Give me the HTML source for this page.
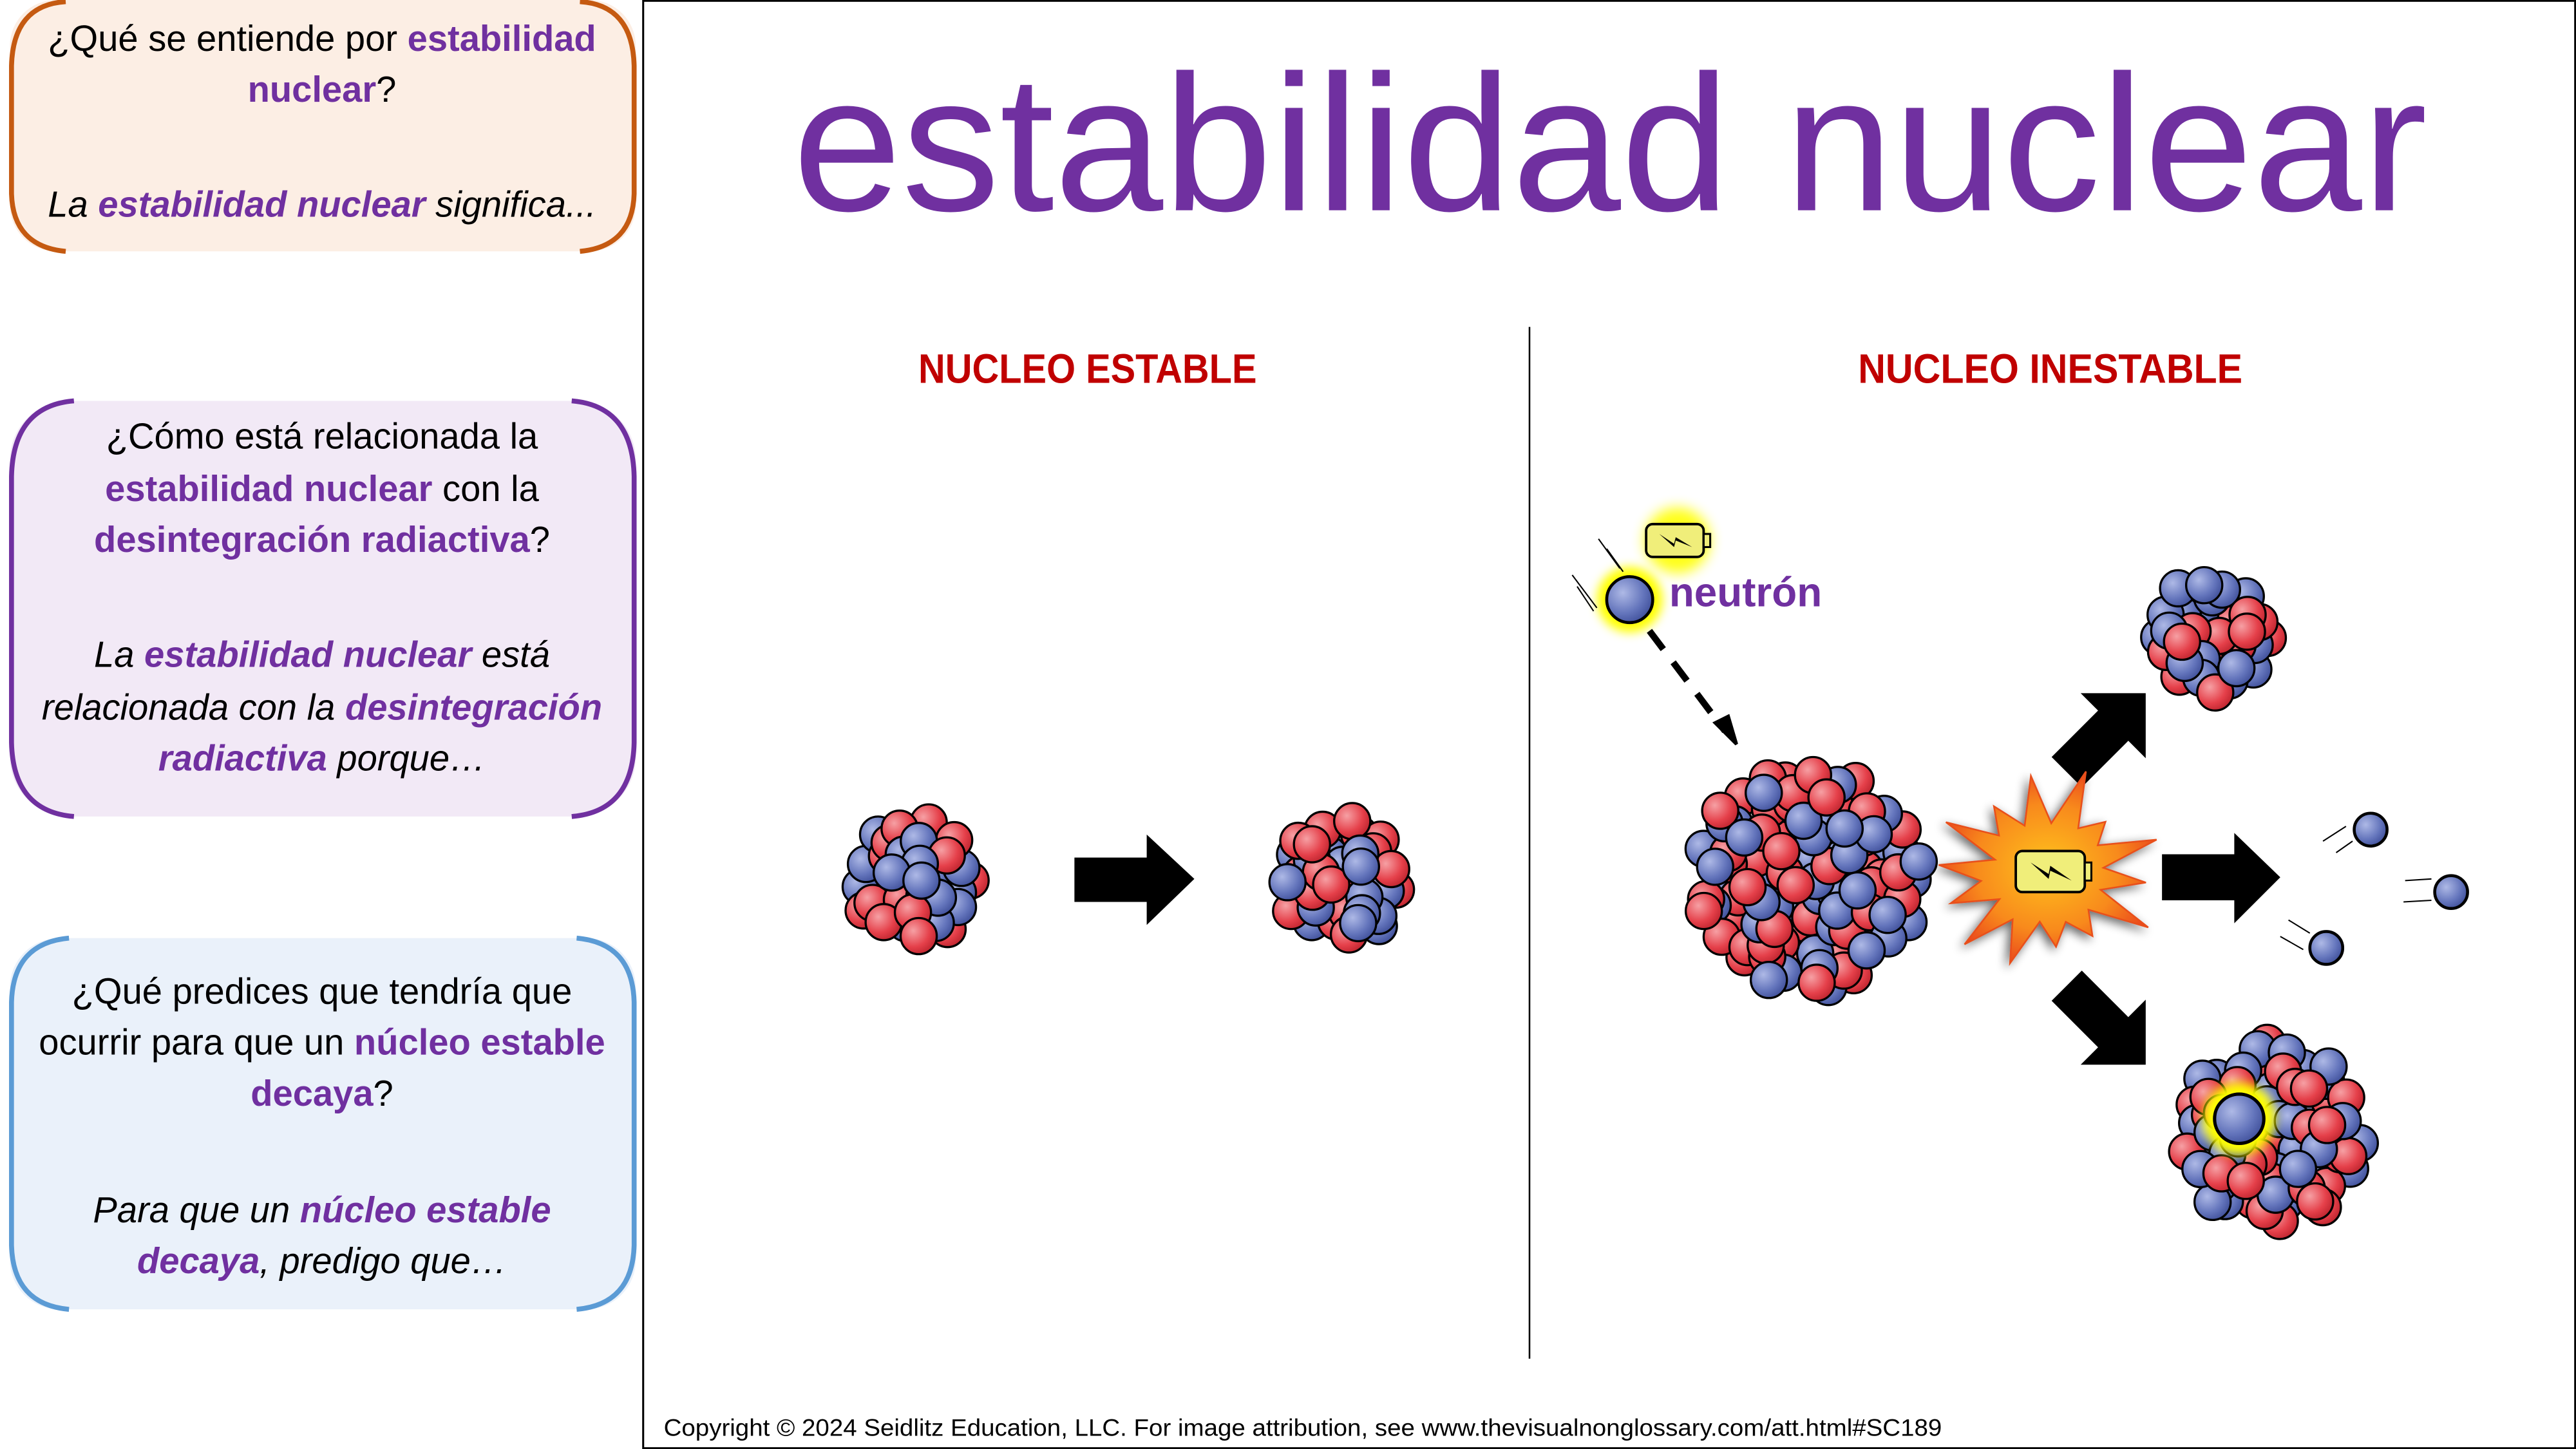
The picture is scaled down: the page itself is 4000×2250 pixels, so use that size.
<!DOCTYPE html>
<html><head><meta charset="utf-8"><style>
html,body{margin:0;padding:0;background:#fff;}
svg{display:block;}
text{font-family:"Liberation Sans","DejaVu Sans",sans-serif;}
.p{fill:#7030A0;font-weight:bold;}
</style></head><body>
<svg id="s" width="4000" height="2250" viewBox="0 0 1568 882" xmlns="http://www.w3.org/2000/svg">
<defs>
<radialGradient id="gb" cx="0.35" cy="0.35" r="0.75"><stop offset="0" stop-color="#AEB9E6"/><stop offset="0.6" stop-color="#6475BC"/><stop offset="1" stop-color="#3A4A95"/></radialGradient>
<radialGradient id="gr" cx="0.35" cy="0.35" r="0.75"><stop offset="0" stop-color="#F6A0A4"/><stop offset="0.6" stop-color="#E5404A"/><stop offset="1" stop-color="#B8202A"/></radialGradient>
<radialGradient id="ge" cx="0.5" cy="0.5" r="0.55"><stop offset="0" stop-color="#FFC21A"/><stop offset="0.6" stop-color="#F88A1A"/><stop offset="1" stop-color="#E8401A"/></radialGradient>
<filter id="bl" x="-1" y="-1" width="3" height="3"><feGaussianBlur stdDeviation="4"/></filter>
<filter id="bl2" x="-1" y="-1" width="3" height="3"><feGaussianBlur stdDeviation="3"/></filter>
<filter id="sh" x="-0.5" y="-0.5" width="2" height="2"><feGaussianBlur in="SourceAlpha" stdDeviation="3"/><feOffset dx="-2" dy="2"/><feComponentTransfer><feFuncA type="linear" slope="0.6"/></feComponentTransfer><feMerge><feMergeNode/><feMergeNode in="SourceGraphic"/></feMerge></filter>
</defs>

<rect x="6" y="0" width="381" height="153" rx="28" fill="#FCEEE4"/>
<path d="M40 1 Q8 3 7 40 V118 Q8 150 40 153" fill="none" stroke="#C55A11" stroke-width="3"/>
<path d="M353 1 Q385 3 386 40 V118 Q385 150 353 153" fill="none" stroke="#C55A11" stroke-width="3"/>
<text x="196" y="31" font-size="22" text-anchor="middle">¿Qué se entiende por <tspan class="p">estabilidad</tspan></text>
<text x="196" y="62" font-size="22" text-anchor="middle"><tspan class="p">nuclear</tspan>?</text>
<text x="196" y="132" font-size="22" text-anchor="middle" font-style="italic">La <tspan class="p">estabilidad nuclear</tspan> significa...</text>

<rect x="6" y="244" width="381" height="253" rx="36" fill="#F2E9F6"/>
<path d="M45 244 Q8 247 7 290 V452 Q8 494 45 497" fill="none" stroke="#7030A0" stroke-width="3"/>
<path d="M348 244 Q385 247 386 290 V452 Q385 494 348 497" fill="none" stroke="#7030A0" stroke-width="3"/>
<text x="196" y="273" font-size="22" text-anchor="middle">¿Cómo está relacionada la</text>
<text x="196" y="305" font-size="22" text-anchor="middle"><tspan class="p">estabilidad nuclear</tspan> con la</text>
<text x="196" y="336" font-size="22" text-anchor="middle"><tspan class="p">desintegración radiactiva</tspan>?</text>
<text x="196" y="406" font-size="22" text-anchor="middle" font-style="italic">La <tspan class="p">estabilidad nuclear</tspan> está</text>
<text x="196" y="438" font-size="22" text-anchor="middle" font-style="italic">relacionada con la <tspan class="p">desintegración</tspan></text>
<text x="196" y="469" font-size="22" text-anchor="middle" font-style="italic"><tspan class="p">radiactiva</tspan> porque…</text>

<rect x="6" y="571" width="381" height="226" rx="30" fill="#EAF1FA"/>
<path d="M42 571 Q8 574 7 610 V758 Q8 794 42 797" fill="none" stroke="#5B9BD5" stroke-width="3"/>
<path d="M351 571 Q385 574 386 610 V758 Q385 794 351 797" fill="none" stroke="#5B9BD5" stroke-width="3"/>
<text x="196" y="611" font-size="22" text-anchor="middle">¿Qué predices que tendría que</text>
<text x="196" y="642" font-size="22" text-anchor="middle">ocurrir para que un <tspan class="p">núcleo estable</tspan></text>
<text x="196" y="673" font-size="22" text-anchor="middle"><tspan class="p">decaya</tspan>?</text>
<text x="196" y="744" font-size="22" text-anchor="middle" font-style="italic">Para que un <tspan class="p">núcleo estable</tspan></text>
<text x="196" y="775" font-size="22" text-anchor="middle" font-style="italic"><tspan class="p">decaya</tspan>, predigo que…</text>

<rect x="391.5" y="0.5" width="1176" height="881" fill="none" stroke="#000" stroke-width="1.2"/>
<line x1="931" y1="199" x2="931" y2="827" stroke="#000" stroke-width="1"/>

<text x="980" y="128" font-size="118" fill="#7030A0" text-anchor="middle" textLength="995" lengthAdjust="spacingAndGlyphs">estabilidad nuclear</text>
<text x="662" y="233" font-size="25" font-weight="bold" fill="#C00000" text-anchor="middle" textLength="206" lengthAdjust="spacingAndGlyphs">NUCLEO ESTABLE</text>
<text x="1248" y="233" font-size="25" font-weight="bold" fill="#C00000" text-anchor="middle" textLength="234" lengthAdjust="spacingAndGlyphs">NUCLEO INESTABLE</text>

<text x="404" y="874" font-size="14.5" textLength="778" lengthAdjust="spacingAndGlyphs">Copyright © 2024 Seidlitz Education, LLC.  For image attribution, see www.thevisualnonglossary.com/att.html#SC189</text>

<g fill="#000">
<polygon points="654,522 698,522 698,508 727,535 698,563 698,549 654,549"/>
<polygon points="1316,520 1360,520 1360,507 1388,534 1360,562 1360,548 1316,548"/>
<polygon transform="translate(1258,470) rotate(-45)" points="0,-13 40,-13 40,-28 68,0 40,28 40,13 0,13"/>
<polygon transform="translate(1258,600) rotate(45)" points="0,-13 40,-13 40,-28 68,0 40,28 40,13 0,13"/>
</g>

<g id="nuc"></g>

<polygon id="boom" fill="url(#ge)" stroke="#E8501A" stroke-width="1" filter="url(#sh)"/>
<g transform="translate(1227,518)">
<rect x="0" y="0" width="42" height="25" rx="4" fill="#F0EE7A" stroke="#000" stroke-width="1.5"/>
<rect x="42" y="7" width="4" height="11" fill="#F0EE7A" stroke="#000" stroke-width="1.2"/>
<polygon points="9,7 20,14 21,9 34,18 21,12 20,17" fill="#000"/>
</g>
<circle cx="1021" cy="329" r="20" fill="#FFFF00" filter="url(#bl)" opacity="0.9"/>
<g transform="translate(1002,319)">
<rect x="0" y="0" width="35" height="20" rx="4" fill="#F0EE7A" stroke="#000" stroke-width="1.5"/>
<rect x="35" y="6" width="4" height="8" fill="#F0EE7A" stroke="#000" stroke-width="1.2"/>
<polygon points="8,6 17,12 18,8 28,14 18,10 17,14" fill="#000"/>
</g>
<circle cx="992" cy="365" r="20" fill="#FFFF00" filter="url(#bl2)"/>
<circle cx="992" cy="365" r="14" fill="url(#gb)" stroke="#000" stroke-width="1.8"/>
<g stroke="#000" stroke-width="0.8">
<line x1="973" y1="328" x2="986" y2="346"/><line x1="978" y1="334" x2="988" y2="348"/>
<line x1="957" y1="350" x2="972" y2="370"/><line x1="960" y1="357" x2="970" y2="372"/>
</g>
<text x="1016" y="369" font-size="25" font-weight="bold" fill="#7030A0">neutrón</text>
<line x1="1004" y1="384" x2="1050" y2="445" stroke="#000" stroke-width="4" stroke-dasharray="14,10"/>
<polygon points="1044,440 1057,453 1052,436" fill="#000" stroke="#000" stroke-width="2"/>

<g stroke="#000" stroke-width="0.8">
<line x1="1414" y1="512" x2="1428" y2="503"/><line x1="1422" y1="519" x2="1432" y2="512"/>
<line x1="1464" y1="536" x2="1480" y2="535"/><line x1="1463" y1="549" x2="1480" y2="548"/>
<line x1="1393" y1="560" x2="1406" y2="568"/><line x1="1388" y1="570" x2="1402" y2="578"/>
</g>
<g fill="url(#gb)" stroke="#000" stroke-width="1.8">
<circle cx="1443" cy="505" r="10"/><circle cx="1492" cy="543" r="10"/><circle cx="1416" cy="577" r="10"/>
</g>
<g id="top"></g>
</svg>
<script>
(function(){
var NS="http://www.w3.org/2000/svg";
var s=12345;function rnd(){s=(s*16807)%2147483647;return s/2147483647;}
var g=document.getElementById('nuc');
function nucleus(cx,cy,R,r){
 var n=Math.round(2.0*(R/r)*(R/r));var pts=[];
 for(var i=0;i<n;i++){var rad=(R-r)*Math.sqrt((i+0.5)/n);var a=i*2.39996+rnd()*0.3;
  pts.push([cx+rad*Math.cos(a)+(rnd()-0.5)*2,cy+rad*Math.sin(a)+(rnd()-0.5)*2,rnd()<0.5]);}
 for(var i=pts.length-1;i>0;i--){var j=Math.floor(rnd()*(i+1));var t=pts[i];pts[i]=pts[j];pts[j]=t;}
 pts.forEach(function(p){var c=document.createElementNS(NS,'circle');c.setAttribute('cx',p[0].toFixed(1));c.setAttribute('cy',p[1].toFixed(1));c.setAttribute('r',r);c.setAttribute('fill',p[2]?'url(#gb)':'url(#gr)');c.setAttribute('stroke','#000');c.setAttribute('stroke-width','1.3');g.appendChild(c);});
}
nucleus(556,535,48,11);
nucleus(816,535,48,11);
nucleus(1100,535,79,11);
nucleus(1346,387,46,11);
nucleus(1383,690,66,11);
var top=document.getElementById('top');
var gl=document.createElementNS(NS,'circle');gl.setAttribute('cx',1363);gl.setAttribute('cy',681);gl.setAttribute('r',22);gl.setAttribute('fill','#FFFF00');gl.setAttribute('filter','url(#bl2)');top.appendChild(gl);
var nc=document.createElementNS(NS,'circle');nc.setAttribute('cx',1363);nc.setAttribute('cy',681);nc.setAttribute('r',15);nc.setAttribute('fill','url(#gb)');nc.setAttribute('stroke','#000');nc.setAttribute('stroke-width','2');top.appendChild(nc);
var pts=[],N=14;
for(var i=0;i<N*2;i++){var a=i*Math.PI/N+0.1;var rr=(i%2==0)?(52+rnd()*30):(32+rnd()*8);pts.push((1245+rr*Math.cos(a)).toFixed(1)+','+(532+rr*0.85*Math.sin(a)).toFixed(1));}
document.getElementById('boom').setAttribute('points',pts.join(' '));
})();
</script>
</body></html>
